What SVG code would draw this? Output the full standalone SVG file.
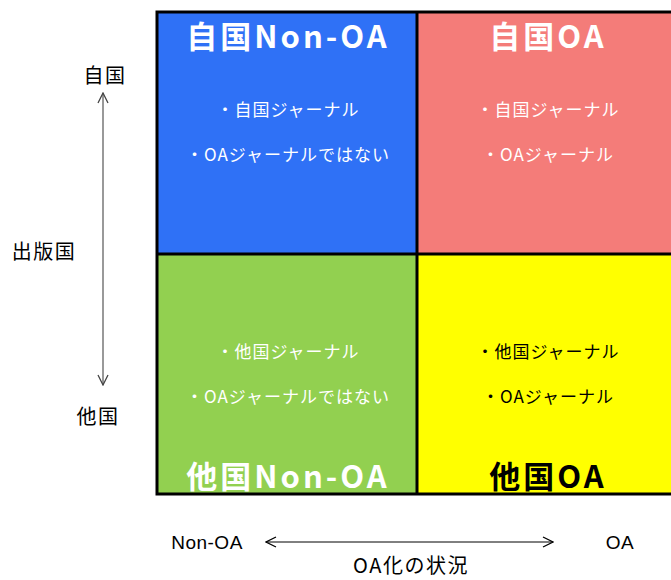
<svg xmlns="http://www.w3.org/2000/svg" width="671" height="580" viewBox="0 0 671 580">
<style>
text{font-family:"Noto Sans CJK JP","Noto Sans",sans-serif;text-anchor:middle}
.title{font-size:31px;font-weight:bold;letter-spacing:3px}
.item{font-size:17px;letter-spacing:1px}
.axis{font-size:20px;fill:#000;letter-spacing:1.5px}
.lat{font-family:"Liberation Sans",Arial,sans-serif;font-size:19px;letter-spacing:0.5px}
.w{fill:#fff}
.k{fill:#000}
</style>
<defs>
<marker id="ag" viewBox="0 0 12 12" refX="11" refY="6" markerWidth="12" markerHeight="12" markerUnits="userSpaceOnUse" orient="auto-start-reverse"><path d="M1,1 L11,6 L1,11" fill="none" stroke="#444" stroke-width="1.3"/></marker>
<marker id="ak" viewBox="0 0 12 12" refX="11" refY="6" markerWidth="12" markerHeight="12" markerUnits="userSpaceOnUse" orient="auto-start-reverse"><path d="M1,1 L11,6 L1,11" fill="none" stroke="#000" stroke-width="1.3"/></marker>
</defs>
<g id="q-jikoku-nonoa">
<rect x="157" y="12" width="260" height="242" fill="#2F71F6"/>
<text class="title w" x="288" y="48">自国Non-OA</text>
<text class="item w" x="288" y="116">・自国ジャーナル</text>
<text class="item w" x="288" y="161">・OAジャーナルではない</text>
</g>
<g id="q-jikoku-oa">
<rect x="417" y="12" width="254" height="242" fill="#F47C79"/>
<text class="title w" x="548" y="48">自国OA</text>
<text class="item w" x="548" y="116">・自国ジャーナル</text>
<text class="item w" x="548" y="161">・OAジャーナル</text>
</g>
<g id="q-takoku-nonoa">
<rect x="157" y="254" width="260" height="240" fill="#92D050"/>
<text class="item w" x="288" y="358">・他国ジャーナル</text>
<text class="item w" x="288" y="403">・OAジャーナルではない</text>
<text class="title w" x="288" y="488">他国Non-OA</text>
</g>
<g id="q-takoku-oa">
<rect x="417" y="254" width="254" height="240" fill="#FFFF00"/>
<text class="item k" x="548" y="358">・他国ジャーナル</text>
<text class="item k" x="548" y="403">・OAジャーナル</text>
<text class="title k" x="548" y="488">他国OA</text>
</g>
<g id="grid" fill="none" stroke="#000" stroke-width="3">
<path d="M671,12 H157 V494 H671"/>
<path d="M417,12 V494 M157,254 H671"/>
</g>
<g id="axis-labels">
<text class="axis" x="105" y="83">自国</text>
<text class="axis" x="44" y="259">出版国</text>
<text class="axis" x="98" y="424">他国</text>
<text class="axis lat" x="207" y="549">Non-OA</text>
<text class="axis lat" x="620" y="549">OA</text>
<text class="axis" x="411" y="573">OA化の状況</text>
</g>
<g id="connectors">
<line x1="103" y1="93" x2="103" y2="385" stroke="#777" stroke-width="1.5" marker-start="url(#ag)" marker-end="url(#ag)"/>
<line x1="266" y1="542" x2="553" y2="542" stroke="#000" stroke-width="1" marker-start="url(#ak)" marker-end="url(#ak)"/>
</g>
</svg>
